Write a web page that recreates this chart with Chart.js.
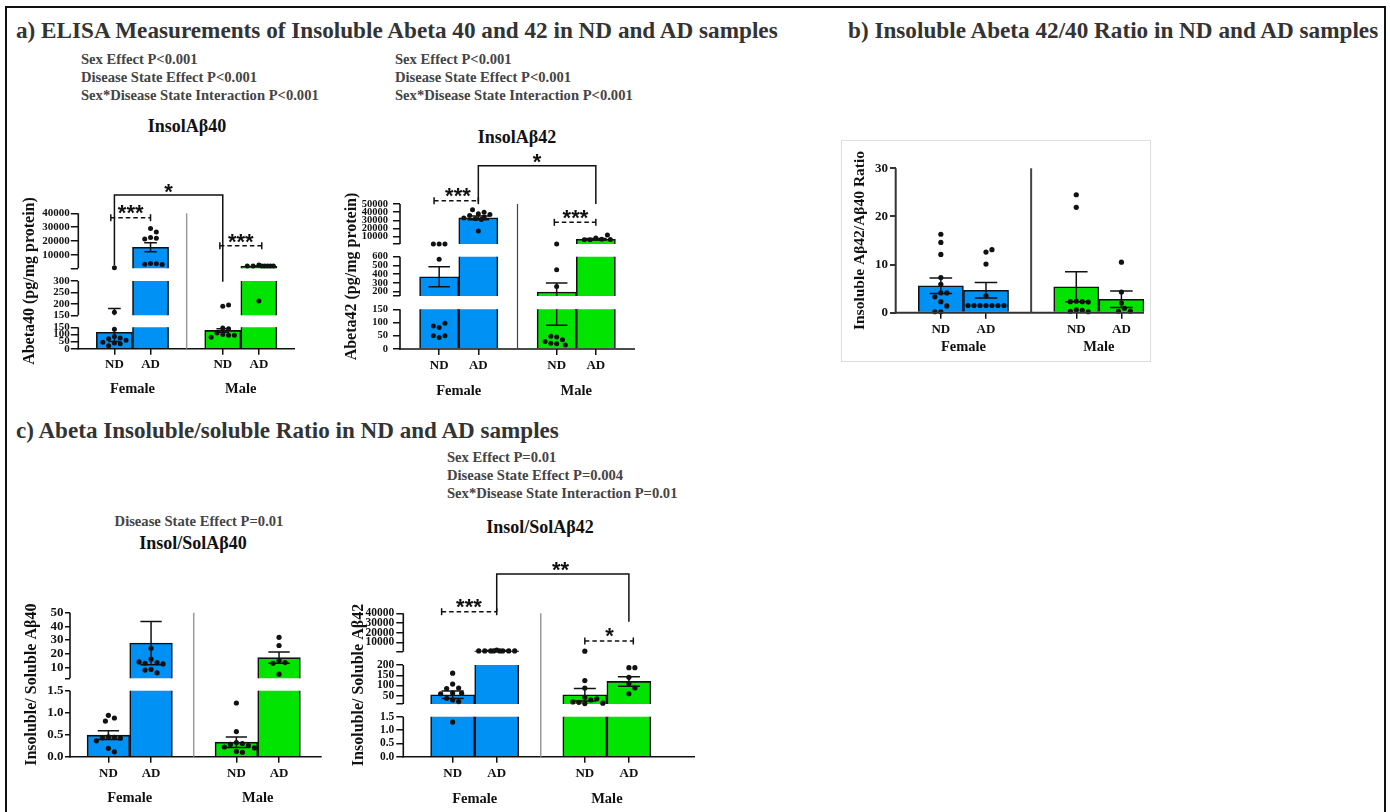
<!DOCTYPE html>
<html><head><meta charset="utf-8">
<script src="https://cdn.jsdelivr.net/npm/chart.js@4.4.1/dist/chart.umd.min.js"></script>
<style>
html,body{margin:0;padding:0;background:#fff;}
body{width:1390px;height:812px;position:relative;overflow:hidden;font-family:"Liberation Serif","Times New Roman",serif;font-weight:bold;}
.frame{position:absolute;left:5px;top:6px;width:1381px;height:900px;border:2px solid #111;box-sizing:border-box;}
.boxb{position:absolute;left:841px;top:140px;width:310px;height:222px;border:1px solid #ddd;box-sizing:border-box;}
.t{position:absolute;white-space:nowrap;}
canvas{position:absolute;}
</style></head><body>
<div class="frame"></div>
<div class="boxb"></div>
<script>
// ---------------- DATA ----------------
const SEX = ['Female', 'Male'];
const COND = ['ND', 'AD'];

// a) InsolAβ40 (pg/mg protein): order F-ND, F-AD, M-ND, M-AD
const insol40Mean = [115, 15500, 128, 1800];
const insol40Sem  = [65, 3300, 12, 220];
const insol40FemND  = [700, 163, 136, 85, 75, 70, 60, 45, 40, 35, 20];
const insol40FemAD  = [29000, 26500, 22500, 22000, 21500, 3800, 3500, 3300, 3000];
const insol40MaleND = [190, 195, 145, 140, 110, 100, 95, 95, 80];
const insol40MaleAD = [2600, 2000, 1950, 1950, 1950, 1950, 1950, 1950, 212];

// a) InsolAβ42 (pg/mg protein)
const insol42Mean = [370, 33000, 195, 6800];
const insol42Sem  = [115, 2300, 105, 900];
const insol42FemND  = [1050, 1000, 1050, 570, 81, 97, 87, 43, 50, 50];
const insol42FemAD  = [38000, 40000, 43000, 37000, 36000, 33000, 31000, 32000, 34000, 17000];
const insol42MaleND = [1000, 450, 260, 45, 35, 48, 20, 22, 15, 28];
const insol42MaleAD = [8500, 6800, 6300, 12000, 6300, 6600];

// b) Insoluble Aβ42/Aβ40 ratio
const ratioMean = [5.6, 4.65, 5.4, 2.8];
const ratioSem  = [1.6, 1.6, 3.1, 1.7];
const ratioFemND  = [16.3, 14.6, 12.1, 7.3, 5.9, 4.1, 4.1, 3.3, 2.3, 1.4, 0.2, 0.2];
const ratioFemAD  = [12.6, 13.1, 10.1, 3.5, 1.5, 1.5, 1.5, 1.5, 1.5, 1.5, 1.5];
const ratioMaleND = [24.5, 21.9, 2.4, 2.3, 2.3, 2.2, 0.6, 0.5, 0.3, 0.2];
const ratioMaleAD = [10.5, 4.3, 2.0, 0.9, 0.3, 0.3];

// c) Insol/Sol Aβ40
const is40Mean = [0.49, 27.8, 0.33, 17.1];
const is40Sem  = [0.1, 15.8, 0.12, 4.1];
const is40FemND  = [0.94, 0.88, 0.81, 0.45, 0.44, 0.43, 0.42, 0.36, 0.19, 0.11];
const is40FemAD  = [24, 16, 13.5, 13, 12.5, 14, 8.5, 6, 8];
const is40MaleND = [1.22, 0.57, 0.32, 0.3, 0.28, 0.25, 0.22, 0.2, 0.12, 0.1];
const is40MaleAD = [32, 26, 15, 13.5, 13, 5];

// c) Insol/Sol Aβ42
const is42Mean = [55, 1500, 55, 120];
const is42Sem  = [18, 300, 30, 23];
const is42FemND  = [160, 107, 88, 85, 63, 62, 60, 38, 30, 22, 1.3];
const is42FemAD  = [2200, 1300, 1300, 1300, 1300, 1300, 1300, 1300, 1300];
const is42MaleND = [1000, 124, 88, 42, 30, 18, 35, 20, 14, 12];
const is42MaleAD = [187, 187, 140, 110, 88, 60];

// tick values of each axis segment (bottom to top)
const insol40Ticks = [[0, 50, 100, 150], [150, 200, 250, 300], [300, 10000, 20000, 30000, 40000]];
const insol42Ticks = [[0, 50, 100, 150], [150, 200, 300, 400, 500, 600], [1000, 10000, 20000, 30000, 40000, 50000]];
const ratioTicks   = [[0, 10, 20, 30]];
const is40Ticks    = [[0, 0.5, 1.0, 1.5], [2, 10, 20, 30, 40, 50]];
const is42Ticks    = [[0, 0.5, 1.0, 1.5], [10, 50, 100, 150, 200], [500, 10000, 20000, 30000, 40000]];

// ---------------- STYLE / LAYOUT ----------------
const BLUE = '#0091f5', GREEN = '#00e400', INK = '#111';
const XPOS = [0, 1, 3, 4];
const SERIF = '"Liberation Serif", "Times New Roman", serif';
const SANS = '"Liberation Sans", Arial, sans-serif';
Chart.defaults.font.family = SERIF;
Chart.defaults.font.weight = 'bold';
Chart.defaults.color = INK;

const TEXTS = [
  ['a) ELISA Measurements of Insoluble Abeta 40 and 42 in ND and AD samples', 16, 30, 23.2, '#333', 'left'],
  ['b) Insoluble Abeta 42/40 Ratio in ND and AD samples', 848, 30, 23.2, '#333', 'left'],
  ['c) Abeta Insoluble/soluble Ratio in ND and AD samples', 16, 430, 23.1, '#333', 'left'],
  ['Sex Effect P<0.001', 81, 59, 14.6, '#444', 'left'],
  ['Disease State Effect P<0.001', 81, 77, 14.6, '#444', 'left'],
  ['Sex*Disease State Interaction P<0.001', 81, 95, 14.6, '#444', 'left'],
  ['Sex Effect P<0.001', 395, 59, 14.6, '#444', 'left'],
  ['Disease State Effect P<0.001', 395, 77, 14.6, '#444', 'left'],
  ['Sex*Disease State Interaction P<0.001', 395, 95, 14.6, '#444', 'left'],
  ['InsolAβ40', 187, 126, 18, INK, 'center'],
  ['InsolAβ42', 517, 137, 18, INK, 'center'],
  ['Disease State Effect P=0.01', 199, 521, 14.6, '#444', 'center'],
  ['Insol/SolAβ40', 193, 543, 18, INK, 'center'],
  ['Sex Effect P=0.01', 447, 457, 14.6, '#444', 'left'],
  ['Disease State Effect P=0.004', 447, 475, 14.6, '#444', 'left'],
  ['Sex*Disease State Interaction P=0.01', 447, 492.5, 14.6, '#444', 'left'],
  ['Insol/SolAβ42', 540, 527, 18, INK, 'center']
];
TEXTS.forEach(([s, x, cy, fs, col, al]) => {
  const d = document.createElement('div');
  d.className = 't';
  d.textContent = s;
  const lh = Math.round(fs * 1.4);
  d.style.cssText = `left:${x}px;top:${cy - lh / 2}px;font-size:${fs}px;line-height:${lh}px;color:${col};` +
    (al === 'center' ? 'transform:translateX(-50%);' : '');
  document.body.appendChild(d);
});

// --------------- broken axis helpers ---------------
function segFrac(segs, gaps, v, si) {
  const total = segs.reduce((a, s) => a + s.h, 0) + gaps.reduce((a, g) => a + g, 0);
  if (si === undefined) {
    si = segs.length - 1;
    for (let i = 0; i < segs.length; i++) { if (v <= segs[i].max) { si = i; break; } }
  }
  let acc = 0;
  for (let i = 0; i < si; i++) acc += segs[i].h + gaps[i];
  const s = segs[si];
  let pos;
  if (v < s.min && si > 0) {
    const pm = segs[si - 1].max, g = gaps[si - 1];
    pos = acc - g + g * Math.max(0, v - pm) / (s.min - pm);
  } else {
    pos = acc + s.h * (v - s.min) / (s.max - s.min);
  }
  return pos / total;
}
const CFG = {};

class BrokenScale extends Chart.LinearScale {
  static id = 'broken';
  _cfg() { return CFG[this.chart.canvas.id]; }
  determineDataLimits() {
    const s = this._cfg().segs;
    this.min = s[0].min; this.max = s[s.length - 1].max;
  }
  buildTicks() {
    const out = [];
    this._cfg().segs.forEach((s, si) => s.ticks.forEach(v => out.push({
      value: v, seg: si, lab: (s.caps || []).includes(v) ? '' : (s.dec ? v.toFixed(s.dec) : String(v))
    })));
    return out;
  }
  getPixelForValue(v) {
    const c = this._cfg();
    return this.bottom - segFrac(c.segs, c.gaps, v) * (this.bottom - this.top);
  }
  getPixelForTick(i) {
    const t = this.ticks[i]; if (!t) return null;
    const c = this._cfg();
    return this.bottom - segFrac(c.segs, c.gaps, t.value, t.seg) * (this.bottom - this.top);
  }
  getValueForPixel(p) {
    return this.min + (this.bottom - p) / (this.bottom - this.top) * (this.max - this.min);
  }
}
Chart.register(BrokenScale);

function segPix(ys, c, v, si) { return ys.bottom - segFrac(c.segs, c.gaps, v, si) * (ys.bottom - ys.top); }

// compact non-overlapping horizontal spread of the dots of one group
function spread(values, cx, c) {
  const H = c.bottomY - c.topY;
  const pxu = (c.rightX - c.axisX) / (c.xmax - c.xmin);
  const D = 2 * c.dotR + 0.8;
  const maxOff = 0.44 * pxu;
  const cands = [0];
  for (let k = 1; k * D / 2 <= maxOff; k++) cands.push(k * D / 2, -k * D / 2);
  const placed = [];
  return values.map(v => {
    const py = segFrac(c.segs, c.gaps, v) * H;
    let best = 0, bestMin = -1;
    for (const off of cands) {
      let m = Infinity;
      placed.forEach(p => { m = Math.min(m, Math.hypot(p.x - off, p.y - py)); });
      if (m >= D) { best = off; break; }
      if (m > bestMin) { bestMin = m; best = off; }
    }
    placed.push({x: best, y: py});
    return {x: cx + best / pxu, y: v};
  });
}

function line(ctx, x1, y1, x2, y2) { ctx.beginPath(); ctx.moveTo(x1, y1); ctx.lineTo(x2, y2); ctx.stroke(); }

function deco(c) {
  return {
    id: 'deco_' + c.id,
    beforeDatasetDraw(chart, args) {
      if (args.index !== 0) return;
      const ys = chart.scales.y, ca = chart.chartArea, ctx = chart.ctx;
      ctx.save();
      ctx.beginPath();
      c.segs.forEach((s, si) => {
        let yt = segPix(ys, c, s.max, si), yb = segPix(ys, c, s.min, si);
        if (si === c.segs.length - 1) yt -= 40;
        if (si === 0) yb += 3;
        ctx.rect(ca.left - 5, yt, ca.right - ca.left + 10, yb - yt);
      });
      ctx.clip();
    },
    afterDatasetDraw(chart, args) {
      if (args.index !== 0) return;
      const ys = chart.scales.y, xs = chart.scales.x, ctx = chart.ctx;
      const pxu = xs.getPixelForValue(1) - xs.getPixelForValue(0);
      ctx.strokeStyle = INK; ctx.lineWidth = 1.5;
      c.means.forEach((m, i) => {
        const x = xs.getPixelForValue(XPOS[i]);
        const yHi = ys.getPixelForValue(m + c.sems[i]);
        const yLo = ys.getPixelForValue(Math.max(0, m - c.sems[i]));
        const hw = c.capU * pxu / 2;
        line(ctx, x, yLo, x, yHi);
        line(ctx, x - hw, yHi, x + hw, yHi);
        line(ctx, x - hw, yLo, x + hw, yLo);
      });
      ctx.restore();
    },
    afterDraw(chart) {
      const ys = chart.scales.y, xs = chart.scales.x, ca = chart.chartArea, ctx = chart.ctx;
      ctx.save();
      ctx.strokeStyle = c.axisColor || INK; ctx.lineWidth = c.axisW || 1.6; ctx.lineCap = 'butt';
      const aw = ctx.lineWidth;
      c.segs.forEach((s, si) => {
        const yb = segPix(ys, c, s.min, si) + (si === 0 ? aw / 2 : 0);
        line(ctx, ca.left, yb, ca.left, segPix(ys, c, s.max, si));
      });
      line(ctx, ca.left - aw / 2, ca.bottom, ca.right, ca.bottom);
      // separator between sexes
      ctx.strokeStyle = c.sepColor; ctx.lineWidth = c.sepW;
      const sx = xs.getPixelForValue(2);
      line(ctx, sx, ca.top, sx, ca.bottom);
      // significance brackets
      ctx.strokeStyle = INK; ctx.lineWidth = 1.5; ctx.fillStyle = INK;
      (c.brackets || []).forEach(b => {
        const x1 = xs.getPixelForValue(b.x1), x2 = xs.getPixelForValue(b.x2), y = ca.top + b.y;
        if (b.kind === 'dash') {
          ctx.setLineDash([4.5, 3]); line(ctx, x1, y, x2, y); ctx.setLineDash([]);
          line(ctx, x1, y - 3.5, x1, y + 3.5); line(ctx, x2, y - 3.5, x2, y + 3.5);
        } else {
          ctx.beginPath(); ctx.moveTo(x1, ca.top + b.d1); ctx.lineTo(x1, y); ctx.lineTo(x2, y);
          ctx.lineTo(x2, ca.top + b.d2); ctx.stroke();
        }
        ctx.font = 'bold 22px ' + SANS; ctx.textAlign = 'center'; ctx.textBaseline = 'alphabetic';
        ctx.fillText(b.text, xs.getPixelForValue(b.tx), ca.top + b.ty + 0.57 * 22);
      });
      // sex group labels
      ctx.font = 'bold 14.5px ' + SERIF; ctx.textAlign = 'center'; ctx.textBaseline = 'alphabetic';
      SEX.forEach((s, g) => ctx.fillText(s, xs.getPixelForValue((XPOS[2 * g] + XPOS[2 * g + 1]) / 2), ca.bottom + c.grpDy + 0.33 * 14.5));
      ctx.restore();
    }
  };
}

function makeChart(c) {
  CFG[c.id] = c;
  const cv = document.createElement('canvas');
  cv.id = c.id;
  const W = Math.round(c.rightX + c.padR - c.canvasL), Hc = c.canvasH;
  cv.width = W; cv.height = Hc;
  cv.style.cssText = `left:${c.canvasL}px;top:${c.canvasT}px;width:${W}px;height:${Hc}px;`;
  document.body.appendChild(cv);
  const yW = c.axisX - c.canvasL;
  const T = c.topY - c.canvasT;
  const xH = c.canvasT + Hc - c.bottomY;
  const R = c.canvasL + W - c.rightX;
  const pts = [];
  c.points.forEach((arr, g) => spread(arr, XPOS[g], c).forEach(p => pts.push(p)));
  new Chart(cv, {
    type: 'bar',
    data: {datasets: [
      {type: 'bar', data: c.means.map((m, i) => ({x: XPOS[i], y: m})),
       backgroundColor: [BLUE, BLUE, GREEN, GREEN], borderColor: INK, borderWidth: 1.6,
       barPercentage: 1, categoryPercentage: 1, order: 2},
      {type: 'scatter', data: pts, pointRadius: c.dotR, pointBackgroundColor: INK, pointBorderWidth: 0,
       order: 1, clip: false}
    ]},
    options: {
      responsive: false, animation: false, devicePixelRatio: 1, events: [],
      layout: {padding: {top: T, right: R, left: 0, bottom: 0}},
      plugins: {legend: {display: false}, tooltip: {enabled: false}},
      scales: {
        x: {type: 'linear', min: c.xmin, max: c.xmax, offset: false,
            afterBuildTicks: s => { s.ticks = XPOS.map(v => ({value: v})); },
            afterFit: s => { s.height = xH; },
            grid: {display: true, drawOnChartArea: false, drawTicks: true, tickLength: 6, color: INK, lineWidth: 1.5, offset: false},
            border: {display: false},
            ticks: {autoSkip: false, maxRotation: 0, padding: c.xPad, color: INK,
                    font: {size: 13, weight: 'bold'}, callback: v => COND[XPOS.indexOf(v) % 2]}},
        y: {type: 'broken', position: 'left',
            afterFit: s => { s.width = yW; },
            grid: {display: true, drawOnChartArea: false, drawTicks: true, tickLength: c.yTick, color: c.axisColor || INK, lineWidth: c.axisW || 1.5},
            border: {display: false},
            ticks: {autoSkip: false, padding: c.yPad, color: INK, font: {size: c.yFont, weight: 'bold'},
                    callback: (v, i, t) => t[i].lab},
            title: {display: true, text: c.yTitle, color: INK, padding: 0, font: {size: c.titleSize, weight: 'bold'}}}
      }
    },
    plugins: [deco(c)]
  });
}

const mkSegs = (ticks, heights, caps, dec) => ticks.map((t, i) => ({
  min: t[0], max: t[t.length - 1], h: heights[i], ticks: t, caps: caps[i] || [], dec: dec[i] || 0
}));

makeChart({
  id: 'c1', canvasL: 20, canvasT: 165, canvasH: 235, axisX: 78.3, topY: 213.3, bottomY: 348.7, rightX: 295, padR: 5,
  xmin: -1, xmax: 5, segs: mkSegs(insol40Ticks, [21.4, 34.3, 55], [[], [], [300]], []), gaps: [12, 12.7],
  yTitle: 'Abeta40 (pg/mg protein)', titleSize: 16, yFont: 11, yTick: 7.5, yPad: 1, xPad: 2.5, dotR: 2.5,
  means: insol40Mean, sems: insol40Sem, points: [insol40FemND, insol40FemAD, insol40MaleND, insol40MaleAD],
  capU: 0.35, sepColor: '#9a9a9a', sepW: 1.5, grpDy: 39.3,
  brackets: [
    {kind: 'dash', x1: -0.1, x2: 1, y: 4.4, text: '***', tx: 0.45, ty: -5.6},
    {kind: 'dash', x1: 2.92, x2: 4.08, y: 32.4, text: '***', tx: 3.5, ty: 22.7},
    {kind: 'solid', x1: 0, x2: 3, y: -18.3, d1: 51.7, d2: 68.4, text: '*', tx: 1.5, ty: -26.6}
  ]
});

makeChart({
  id: 'c2', canvasL: 342, canvasT: 140, canvasH: 262, axisX: 400, topY: 204, bottomY: 349, rightX: 635, padR: 5,
  xmin: -1, xmax: 5, segs: mkSegs(insol42Ticks, [39.7, 39.3, 40], [[], [150], [1000]], []), gaps: [13.3, 12.7],
  yTitle: 'Abeta42 (pg/mg protein)', titleSize: 16, yFont: 10.5, yTick: 7, yPad: 5, xPad: 2.5, dotR: 2.5,
  means: insol42Mean, sems: insol42Sem, points: [insol42FemND, insol42FemAD, insol42MaleND, insol42MaleAD],
  capU: 0.55, sepColor: '#444', sepW: 1.2, grpDy: 41,
  brackets: [
    {kind: 'dash', x1: -0.13, x2: 1, y: -3.3, text: '***', tx: 0.48, ty: -14},
    {kind: 'solid', x1: 1, x2: 4, y: -38.3, d1: -2.3, d2: 0, text: '*', tx: 2.5, ty: -47.3},
    {kind: 'dash', x1: 2.94, x2: 4, y: 18.3, text: '***', tx: 3.48, ty: 8.7}
  ]
});

makeChart({
  id: 'c3', canvasL: 851, canvasT: 150, canvasH: 212, axisX: 895.7, topY: 168.3, bottomY: 312.7, rightX: 1145, padR: 3,
  xmin: -1, xmax: 4.5, segs: mkSegs(ratioTicks, [144.4], [[]], []), gaps: [],
  yTitle: 'Insoluble Aβ42/Aβ40 Ratio', titleSize: 15.5, yFont: 13, yTick: 5.7, yPad: 2, xPad: 3.5, dotR: 2.6,
  means: ratioMean, sems: ratioSem, points: [ratioFemND, ratioFemAD, ratioMaleND, ratioMaleAD],
  capU: 0.5, sepColor: '#444', sepW: 2, grpDy: 34, axisColor: '#333', axisW: 2, brackets: []
});

makeChart({
  id: 'c4', canvasL: 22, canvasT: 590, canvasH: 222, axisX: 70, topY: 612.7, bottomY: 756.7, rightX: 321.7, padR: 5,
  xmin: -0.9, xmax: 5, segs: mkSegs(is40Ticks, [66, 65.6], [[], [2]], [1]), gaps: [12.4],
  yTitle: 'Insoluble/ Soluble Aβ40', titleSize: 16, yFont: 13, yTick: 5, yPad: 1.5, xPad: 3, dotR: 2.6,
  means: is40Mean, sems: is40Sem, points: [is40FemND, is40FemAD, is40MaleND, is40MaleAD],
  capU: 0.5, sepColor: '#9a9a9a', sepW: 1.5, grpDy: 41, brackets: []
});

makeChart({
  id: 'c5', canvasL: 349, canvasT: 550, canvasH: 262, axisX: 403.3, topY: 613.3, bottomY: 756.7, rightX: 695, padR: 5,
  xmin: -1.12, xmax: 5.5, segs: mkSegs(is42Ticks, [40, 39, 38.4], [[], [10], [500]], [1]), gaps: [12.7, 13.3],
  yTitle: 'Insoluble/ Soluble Aβ42', titleSize: 16, yFont: 11.5, yTick: 7, yPad: 2, xPad: 3, dotR: 2.6,
  means: is42Mean, sems: is42Sem, points: [is42FemND, is42FemAD, is42MaleND, is42MaleAD],
  capU: 0.5, sepColor: '#9a9a9a', sepW: 1.5, grpDy: 41.6,
  brackets: [
    {kind: 'dash', x1: -0.25, x2: 1, y: -1.6, text: '***', tx: 0.37, ty: -11.6},
    {kind: 'solid', x1: 1, x2: 4, y: -39.3, d1: -1.6, d2: 8.4, text: '**', tx: 2.45, ty: -49},
    {kind: 'dash', x1: 3, x2: 4.1, y: 27.7, text: '*', tx: 3.56, ty: 17.4}
  ]
});
</script>
</body></html>
